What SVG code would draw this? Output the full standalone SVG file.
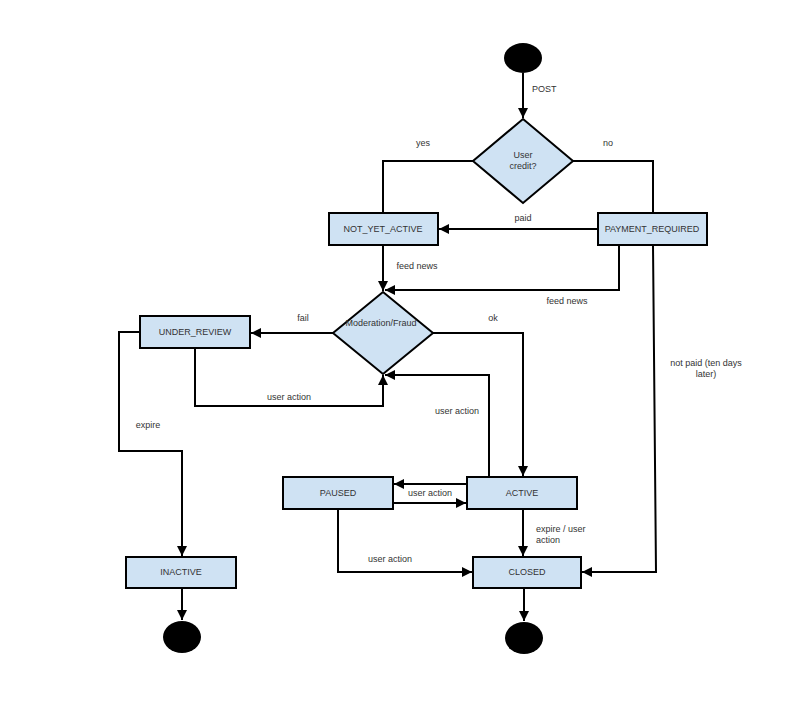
<svg xmlns="http://www.w3.org/2000/svg" width="800" height="701" viewBox="0 0 800 701">
<style>
.box{fill:#cfe2f3;stroke:#000;stroke-width:2}
.dot{fill:#000}
.lbl{font-family:"Liberation Sans",Arial,sans-serif;font-size:9px;fill:#333;text-anchor:middle}
.el{font-family:"Liberation Sans",Arial,sans-serif;font-size:9px;fill:#333}
.c{fill:none;stroke:#000;stroke-width:2}
</style>
<defs>
<marker id="ah" viewBox="0 0 10 10" refX="10" refY="5" markerWidth="11" markerHeight="10" markerUnits="userSpaceOnUse" orient="auto">
<path d="M0,0 L10,5 L0,10 z" fill="#000"/>
</marker>
</defs>
<rect width="800" height="701" fill="#fff"/>
<g id="connectors">
<path class="c" d="M523,73 L523,118" marker-end="url(#ah)"/>
<path class="c" d="M473,161 L383,161 L383,213"/>
<path class="c" d="M573,161 L653,161 L653,213"/>
<path class="c" d="M598,229 L439,229" marker-end="url(#ah)"/>
<path class="c" d="M383,245 L383,291" marker-end="url(#ah)"/>
<path class="c" d="M619,245 L619,290 L385,290" marker-end="url(#ah)"/>
<path class="c" d="M333,333 L251,333" marker-end="url(#ah)"/>
<path class="c" d="M433,333 L523,333 L523,476" marker-end="url(#ah)"/>
<path class="c" d="M195,348 L195,406 L383,406 L383,375" marker-end="url(#ah)"/>
<path class="c" d="M489,477 L489,375 L385,375" marker-end="url(#ah)"/>
<path class="c" d="M140,332 L119,332 L119,451 L182,451 L182,556" marker-end="url(#ah)"/>
<path class="c" d="M182,588 L182,620" marker-end="url(#ah)"/>
<path class="c" d="M467,484 L394,484" marker-end="url(#ah)"/>
<path class="c" d="M393,503 L466,503" marker-end="url(#ah)"/>
<path class="c" d="M523,509 L523,556" marker-end="url(#ah)"/>
<path class="c" d="M338,509 L338,572 L472,572" marker-end="url(#ah)"/>
<path class="c" d="M524,588 L524,621" marker-end="url(#ah)"/>
<path class="c" d="M653,245 L656,572 L582,572" marker-end="url(#ah)"/>
<text class="el" x="532" y="92">POST</text>
<text class="lbl" x="423" y="146">yes</text>
<text class="lbl" x="608" y="146">no</text>
<text class="lbl" x="523" y="221">paid</text>
<text class="lbl" x="417" y="269">feed news</text>
<text class="lbl" x="567" y="304">feed news</text>
<text class="lbl" x="303" y="321">fail</text>
<text class="lbl" x="493" y="321">ok</text>
<text class="lbl" x="289" y="400">user action</text>
<text class="lbl" x="457" y="414">user action</text>
<text class="lbl" x="148" y="428">expire</text>
<text class="lbl" x="430" y="496">user action</text>
<text class="el" x="536" y="532">expire / user</text>
<text class="el" x="536" y="543">action</text>
<text class="lbl" x="390" y="562">user action</text>
<text class="lbl" x="706" y="366">not paid (ten days</text>
<text class="lbl" x="706" y="377">later)</text>
</g>
<g id="start"><ellipse class="dot" cx="523" cy="58" rx="19" ry="15"/></g>
<g id="user_credit"><polygon class="box" points="523,119 573,161 523,203 473,161"/>
<text class="lbl" x="523" y="158">User</text><text class="lbl" x="523" y="169">credit?</text></g>
<g id="not_yet_active"><rect class="box" x="329" y="213" width="109" height="32"/>
<text class="lbl" x="383" y="232">NOT_YET_ACTIVE</text></g>
<g id="payment_required"><rect class="box" x="598" y="213" width="109" height="32"/>
<text class="lbl" x="652" y="232">PAYMENT_REQUIRED</text></g>
<g id="moderation"><polygon class="box" points="383,292 433,333 383,374 333,333"/>
<text class="lbl" x="381" y="326">Moderation/Fraud</text></g>
<g id="under_review"><rect class="box" x="140" y="316" width="110" height="32"/>
<text class="lbl" x="195" y="335">UNDER_REVIEW</text></g>
<g id="paused"><rect class="box" x="283" y="477" width="110" height="32"/>
<text class="lbl" x="338" y="496">PAUSED</text></g>
<g id="active"><rect class="box" x="467" y="477" width="110" height="32"/>
<text class="lbl" x="522" y="496">ACTIVE</text></g>
<g id="inactive"><rect class="box" x="126" y="557" width="110" height="31"/>
<text class="lbl" x="181" y="575">INACTIVE</text></g>
<g id="closed"><rect class="box" x="473" y="557" width="108" height="31"/>
<text class="lbl" x="527" y="575">CLOSED</text></g>
<g id="end1"><ellipse class="dot" cx="182" cy="637" rx="19" ry="16"/></g>
<g id="end2"><ellipse class="dot" cx="524" cy="638" rx="19" ry="16"/></g>
</svg>
